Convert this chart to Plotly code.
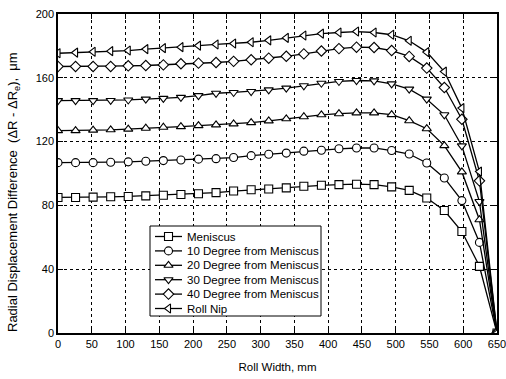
import plotly.graph_objects as go

roll_width = [0, 26, 52, 78, 104, 130, 156, 182, 208, 234, 260, 286, 312, 338, 364,
              390, 416, 442, 468, 494, 520, 546, 572, 598, 624, 650]

meniscus = [85, 85, 85.2, 85.4, 85.6, 86, 86.4, 86.8, 87.3, 88, 89, 89.8, 90.3, 91, 92,
            92.6, 93, 93.3, 93, 91.6, 89.4, 84.6, 76.8, 63.6, 41.8, 0]
deg10 = [106.8, 106.8, 106.8, 107.1, 107.3, 107.7, 108.1, 108.5, 109, 109.3, 110, 111.2,
         112.1, 112.8, 114, 114.6, 115.5, 116, 116, 114.4, 112.2, 106.6, 97.2, 83, 56.8, 0]
deg20 = [126.9, 126.9, 127.2, 127.4, 127.8, 128.4, 129, 129.4, 130, 130.5, 131.1, 131.9,
         133, 134.3, 135.6, 136.8, 137.5, 138, 138, 136.9, 133.1, 128.1, 117.5, 101, 71, 0]
deg30 = [145.7, 145.7, 145.7, 145.8, 146.1, 146.6, 147.1, 147.7, 148.8, 150.3, 150.8, 151.4,
         152.4, 153.5, 155, 156.6, 157.7, 158.3, 158.1, 156.2, 152.9, 146.6, 136.8, 117.3, 82.4, 0]
deg40 = [167.1, 167.1, 167.1, 167.1, 167.5, 167.7, 168.1, 168.8, 169.2, 169.6, 170.3, 171.3,
         172.3, 173.5, 175, 176.8, 178.3, 179.2, 179, 177.1, 173.4, 166.1, 153.9, 134, 95.4, 0]
roll_nip = [175.4, 175.8, 176.3, 176.7, 177.1, 178, 178.6, 179.2, 180.2, 180.9, 181.5, 182.3,
            183.5, 185, 186.5, 187.7, 188.4, 189, 188.4, 187, 183.2, 176.1, 163.9, 141, 101.2, 0]

series_names = ["Meniscus", "10 Degree from Meniscus", "20 Degree from Meniscus",
                "30 Degree from Meniscus", "40 Degree from Meniscus", "Roll Nip"]
series_values = [meniscus, deg10, deg20, deg30, deg40, roll_nip]
symbols = ["square", "circle", "triangle-up", "triangle-down", "diamond", "triangle-left"]

x_ticks = list(range(0, 651, 50))
y_ticks = list(range(0, 201, 40))

# figure geometry (pixels)
W, H = 506, 379
ML, MR, MT, MB = 58, 9, 14, 46
PW, PH = W - ML - MR, H - MT - MB


def px(xp):
    return (xp - ML) / PW


def py(yp):
    return (H - MB - yp) / PH


font_family = "Liberation Sans, Arial, sans-serif"
marker_line = dict(color="black", width=1.1)

fig = go.Figure()
for name, vals, sym in zip(series_names, series_values, symbols):
    fig.add_trace(go.Scatter(
        x=roll_width, y=vals, name=name, mode="lines+markers",
        line=dict(color="black", width=1.3),
        marker=dict(symbol=sym, size=8, color="white", line=marker_line),
        showlegend=False,
    ))

# custom legend (compact rows like the reference), drawn on an overlay axis in paper units
leg_left, leg_right, leg_top, leg_bottom = 150, 321, 226, 316
row_y0, row_step = 236.5, 14.4
sample_x0, sample_x1, text_x = 155, 182, 185

fig.add_trace(go.Scatter(
    x=[px(leg_left), px(leg_right), px(leg_right), px(leg_left), px(leg_left)],
    y=[py(leg_top), py(leg_top), py(leg_bottom), py(leg_bottom), py(leg_top)],
    xaxis="x2", yaxis="y2", mode="lines", fill="toself", fillcolor="white",
    line=dict(color="black", width=1), showlegend=False, hoverinfo="skip",
    cliponaxis=False,
))

annotations = []
for i, name in enumerate(series_names):
    yy = py(row_y0 + i * row_step)
    fig.add_trace(go.Scatter(
        x=[px(sample_x0), px(sample_x1)], y=[yy, yy], xaxis="x2", yaxis="y2",
        mode="lines", line=dict(color="black", width=1.3),
        showlegend=False, hoverinfo="skip", cliponaxis=False,
    ))
    fig.add_trace(go.Scatter(
        x=[px((sample_x0 + sample_x1) / 2)], y=[yy], xaxis="x2", yaxis="y2",
        mode="markers", showlegend=False, hoverinfo="skip", cliponaxis=False,
        marker=dict(symbol=symbols[i], size=8, color="white", line=marker_line),
    ))
    annotations.append(dict(x=px(text_x), y=yy, xref="paper", yref="paper",
                            text=name, showarrow=False, xanchor="left", yanchor="middle",
                            font=dict(size=11.5, color="black", family=font_family)))

annotations.append(dict(
    x=px(13), y=py(192), xref="paper", yref="paper", textangle=-90,
    text="Radial Displacement Difference  (ΔR - ΔR<sub>e</sub>),  μm",
    showarrow=False, xanchor="center", yanchor="middle",
    font=dict(size=13, color="black", family=font_family)))

axis_common = dict(
    showline=True, linecolor="black", linewidth=1.5, mirror="ticks",
    ticks="inside", ticklen=5, tickcolor="black", tickwidth=1,
    showgrid=True, gridcolor="black", griddash="dot", gridwidth=0.8,
    zeroline=False, automargin=False, ticklabeloverflow="allow",
    tickfont=dict(size=11, color="black", family=font_family),
)

fig.update_layout(
    width=W, height=H,
    margin=dict(l=ML, r=MR, t=MT, b=MB),
    paper_bgcolor="white", plot_bgcolor="white",
    font=dict(family=font_family, color="black", size=11),
    xaxis=dict(range=[0, 650], tickvals=x_ticks,
               title=dict(text="Roll Width, mm", font=dict(size=11.5), standoff=14),
               **axis_common),
    yaxis=dict(range=[0, 200], tickvals=y_ticks, **axis_common),
    xaxis2=dict(range=[0, 1], overlaying="x", visible=False, fixedrange=True),
    yaxis2=dict(range=[0, 1], overlaying="y", visible=False, fixedrange=True),
    annotations=annotations,
    showlegend=False,
)

fig.write_html("out.html")
